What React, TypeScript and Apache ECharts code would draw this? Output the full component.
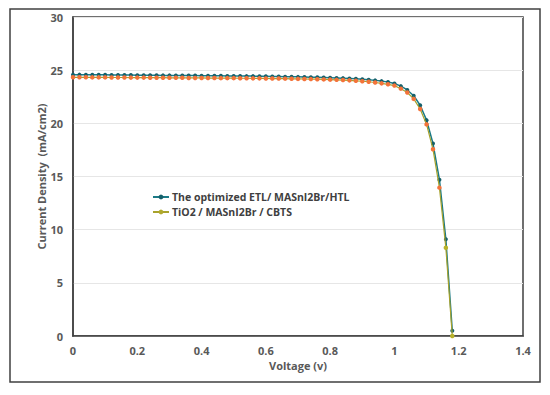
import React, { useEffect, useRef } from "react";
import * as echarts from "echarts";

const voltage: number[] = [
  0, 0.02, 0.04, 0.06, 0.08, 0.1, 0.12, 0.14, 0.16, 0.18,
  0.2, 0.22, 0.24, 0.26, 0.28, 0.3, 0.32, 0.34, 0.36, 0.38,
  0.4, 0.42, 0.44, 0.46, 0.48, 0.5, 0.52, 0.54, 0.56, 0.58,
  0.6, 0.62, 0.64, 0.66, 0.68, 0.7, 0.72, 0.74, 0.76, 0.78,
  0.8, 0.82, 0.84, 0.86, 0.88, 0.9, 0.92, 0.94, 0.96, 0.98,
  1.0, 1.02, 1.04, 1.06, 1.08, 1.1, 1.12, 1.14, 1.16, 1.18,
];

const etlCurrent: number[] = [
  24.58, 24.58, 24.57, 24.57, 24.56, 24.56, 24.55, 24.55, 24.54, 24.54,
  24.53, 24.53, 24.52, 24.52, 24.51, 24.51, 24.5, 24.5, 24.49, 24.49,
  24.48, 24.48, 24.47, 24.47, 24.46, 24.46, 24.45, 24.44, 24.44, 24.43,
  24.42, 24.41, 24.4, 24.39, 24.38, 24.37, 24.36, 24.34, 24.33, 24.31,
  24.29, 24.27, 24.25, 24.22, 24.19, 24.15, 24.1, 24.04, 23.97, 23.88,
  23.75, 23.5, 23.14, 22.6, 21.7, 20.3, 18.1, 14.7, 9.1, 0.5,
];

const tio2Current: number[] = [
  24.33, 24.33, 24.33, 24.32, 24.32, 24.32, 24.31, 24.31, 24.31, 24.3,
  24.3, 24.3, 24.29, 24.29, 24.29, 24.28, 24.28, 24.28, 24.27, 24.27,
  24.27, 24.26, 24.26, 24.25, 24.25, 24.25, 24.24, 24.24, 24.23, 24.23,
  24.22, 24.21, 24.21, 24.2, 24.19, 24.18, 24.17, 24.16, 24.15, 24.13,
  24.11, 24.09, 24.07, 24.04, 24.0, 23.96, 23.91, 23.84, 23.76, 23.67,
  23.55, 23.26, 22.9, 22.3, 21.35, 19.9, 17.56, 13.95, 8.3, 0,
];

const seriesNames: string[] = [
  "The optimized ETL/ MASnI2Br/HTL",
  "TiO2 / MASnI2Br / CBTS",
];

const FONT = "'Open Sans', 'Noto Sans', sans-serif";

export default function App() {
  const ref = useRef<HTMLDivElement>(null);
  useEffect(() => {
    if (!ref.current) return;
    const chart = echarts.init(ref.current, undefined, { renderer: "svg" });
    const etlData = voltage.map((v, i) => [v, etlCurrent[i]]);
    const tioData = voltage.map((v, i) => {
      const last = i >= voltage.length - 2;
      return {
        value: [v, tio2Current[i]],
        itemStyle: { color: last ? "#b8b22a" : "#f4733a" },
      };
    });
    const labelStyle = {
      fontFamily: FONT,
      fontSize: 11,
      fontWeight: "bold",
      color: "#595959",
    };
    chart.setOption({
      animation: false,
      backgroundColor: "#ffffff",
      graphic: [
        {
          type: "rect",
          shape: { x: 10, y: 9, width: 530, height: 373 },
          style: { fill: "none", stroke: "#404040", lineWidth: 1.5 },
          silent: true,
        },
      ],
      grid: {
        left: 73,
        top: 17,
        width: 450,
        height: 319,
        show: true,
        borderColor: "#404040",
        borderWidth: 1.5,
        containLabel: false,
      },
      legend: {
        orient: "vertical",
        left: 152,
        top: 190,
        padding: 0,
        itemWidth: 16,
        itemHeight: 6,
        itemGap: 1,
        textStyle: {
          fontFamily: FONT,
          fontSize: 10.5,
          fontWeight: "bold",
          color: "#404040",
          lineHeight: 14,
          padding: [0, 0, 0, -2],
        },
        data: [
          { name: seriesNames[0], itemStyle: { color: "#14606b" } },
          { name: seriesNames[1], itemStyle: { color: "#b0a92e" } },
        ],
      },
      xAxis: {
        type: "value",
        min: 0,
        max: 1.4,
        interval: 0.2,
        name: "Voltage (v)",
        nameLocation: "middle",
        nameGap: 24,
        nameMoveOverlap: false,
        nameTextStyle: labelStyle,
        axisLine: { show: true, lineStyle: { color: "#404040", width: 1.5 } },
        axisTick: { show: false },
        splitLine: { show: false },
        axisLabel: {
          ...labelStyle,
          margin: 9,
          formatter: (v: number) => String(Math.round(v * 10) / 10),
        },
      },
      yAxis: {
        type: "value",
        min: 0,
        max: 30,
        interval: 5,
        name: "Current Density  (mA/cm2)",
        nameLocation: "middle",
        nameGap: 26,
        nameMoveOverlap: false,
        nameTextStyle: labelStyle,
        axisLine: { show: true, lineStyle: { color: "#404040", width: 1.5 } },
        axisTick: { show: false },
        splitLine: { show: true, lineStyle: { color: "#e6e6e6", width: 1 } },
        axisLabel: {
          ...labelStyle,
          margin: 10,
        },
      },
      series: [
        {
          name: seriesNames[0],
          type: "line",
          data: etlData,
          showSymbol: true,
          symbol: "circle",
          symbolSize: 4,
          lineStyle: { color: "#1b7a86", width: 1.5 },
          itemStyle: { color: "#14606b" },
          z: 2,
        },
        {
          name: seriesNames[1],
          type: "line",
          data: tioData,
          showSymbol: true,
          symbol: "circle",
          symbolSize: 4.5,
          lineStyle: { color: "#a8a22c", width: 1.2 },
          itemStyle: { color: "#b0a92e" },
          z: 3,
        },
      ],
    });
    return () => chart.dispose();
  }, []);
  return (
    <div
      ref={ref}
      style={{ position: "fixed", left: 0, top: 0, width: 550, height: 395 }}
    />
  );
}
